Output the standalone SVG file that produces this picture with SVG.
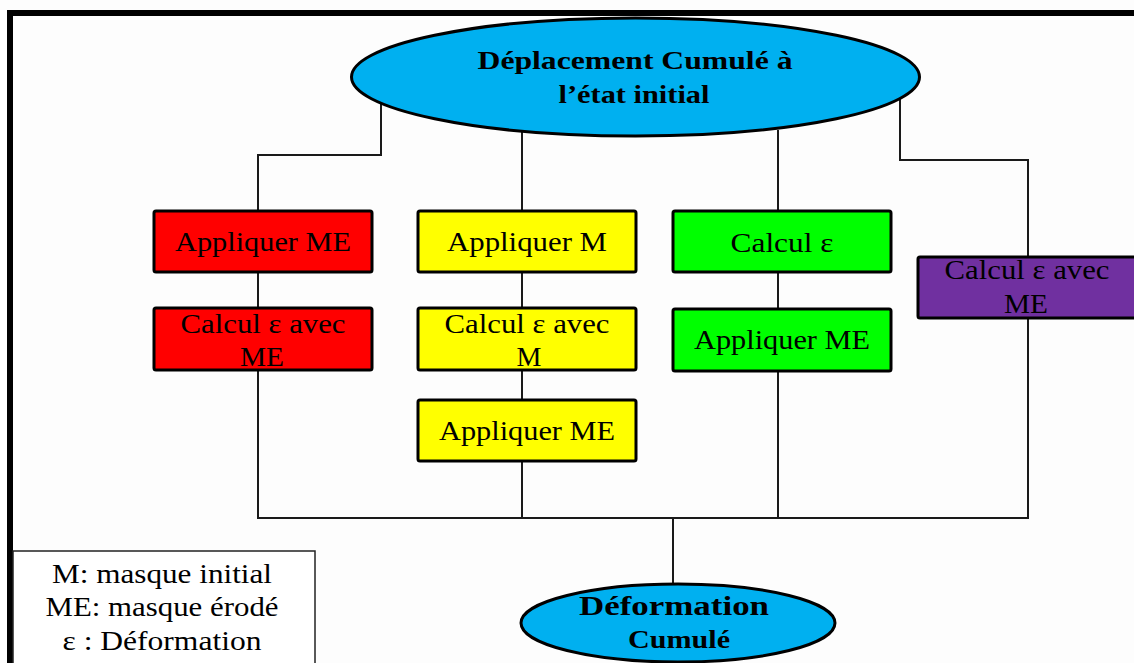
<svg xmlns="http://www.w3.org/2000/svg" width="1134" height="663" viewBox="0 0 1134 663">
<style>
.frame{fill:none;stroke:#000;stroke-width:6}
.box{stroke:#000;stroke-width:3}
.ell{fill:#00B0F0;stroke:#000;stroke-width:3}
.conn{fill:none;stroke:#1a1a1a;stroke-width:2}
.t{font-family:"Liberation Serif","Times New Roman",serif;font-size:28px;fill:#000;text-anchor:middle}
.tb{font-family:"Liberation Serif","Times New Roman",serif;font-weight:bold;fill:#000;text-anchor:middle}
</style>
<rect x="0" y="0" width="1134" height="663" fill="#fdfdfd"/>
<rect class="frame" x="10" y="13" width="1140" height="700"/>
<g id="connectors">
<polyline class="conn" points="381,100 381,155 258,155 258,518"/>
<line class="conn" x1="522" y1="130" x2="522" y2="518"/>
<line class="conn" x1="778" y1="130" x2="778" y2="518"/>
<polyline class="conn" points="900,98 900,160 1028,160 1028,518"/>
<line class="conn" x1="257" y1="518" x2="1029" y2="518"/>
<line class="conn" x1="673" y1="518" x2="673" y2="585"/>
</g>
<g id="top">
<ellipse class="ell" cx="635.5" cy="77" rx="284" ry="59"/>
<text class="tb" x="635" y="69" font-size="26" textLength="315" lengthAdjust="spacingAndGlyphs">Déplacement Cumulé   à</text>
<text class="tb" x="634" y="103" font-size="26" textLength="151" lengthAdjust="spacingAndGlyphs">l’état initial</text>
</g>
<g id="red1"><rect class="box" x="154" y="211" width="218" height="61" rx="2" fill="#FF0000"/>
<text class="t" x="263" y="251" textLength="176" lengthAdjust="spacingAndGlyphs">Appliquer ME</text></g>
<g id="red2"><rect class="box" x="154" y="308" width="218" height="62" rx="2" fill="#FF0000"/>
<text class="t" x="263" y="333" textLength="165" lengthAdjust="spacingAndGlyphs">Calcul ε avec</text>
<text class="t" x="262" y="366" textLength="44" lengthAdjust="spacingAndGlyphs">ME</text></g>
<g id="yellow1"><rect class="box" x="418" y="211" width="218" height="61" rx="2" fill="#FFFF00"/>
<text class="t" x="527" y="251" textLength="160" lengthAdjust="spacingAndGlyphs">Appliquer M</text></g>
<g id="yellow2"><rect class="box" x="418" y="308" width="218" height="62" rx="2" fill="#FFFF00"/>
<text class="t" x="527" y="333" textLength="165" lengthAdjust="spacingAndGlyphs">Calcul ε avec</text>
<text class="t" x="529" y="366">M</text></g>
<g id="yellow3"><rect class="box" x="418" y="400" width="218" height="61" rx="2" fill="#FFFF00"/>
<text class="t" x="527" y="440" textLength="176" lengthAdjust="spacingAndGlyphs">Appliquer ME</text></g>
<g id="green1"><rect class="box" x="673" y="211" width="218" height="61" rx="2" fill="#00FF00"/>
<text class="t" x="782" y="252" textLength="103" lengthAdjust="spacingAndGlyphs">Calcul ε</text></g>
<g id="green2"><rect class="box" x="673" y="309" width="218" height="62" rx="2" fill="#00FF00"/>
<text class="t" x="782" y="349" textLength="176" lengthAdjust="spacingAndGlyphs">Appliquer ME</text></g>
<g id="purple"><rect class="box" x="918" y="257" width="220" height="61" rx="2" fill="#7030A0"/>
<text class="t" x="1027" y="279" textLength="165" lengthAdjust="spacingAndGlyphs">Calcul ε avec</text>
<text class="t" x="1026" y="313" textLength="44" lengthAdjust="spacingAndGlyphs">ME</text></g>
<g id="legend"><rect x="13" y="551" width="302" height="130" fill="#fff" stroke="#222" stroke-width="1.5"/>
<text class="t" x="162" y="583" textLength="220" lengthAdjust="spacingAndGlyphs">M: masque initial</text>
<text class="t" x="162" y="616" textLength="233" lengthAdjust="spacingAndGlyphs">ME: masque érodé</text>
<text class="t" x="162" y="650" textLength="199" lengthAdjust="spacingAndGlyphs">ε : Déformation</text></g>
<g id="bottom">
<ellipse class="ell" cx="678" cy="623" rx="157" ry="39"/>
<text class="tb" x="674" y="615" font-size="28" textLength="190" lengthAdjust="spacingAndGlyphs">Déformation</text>
<text class="tb" x="679" y="648" font-size="25" textLength="102" lengthAdjust="spacingAndGlyphs">Cumulé</text>
</g>
</svg>
